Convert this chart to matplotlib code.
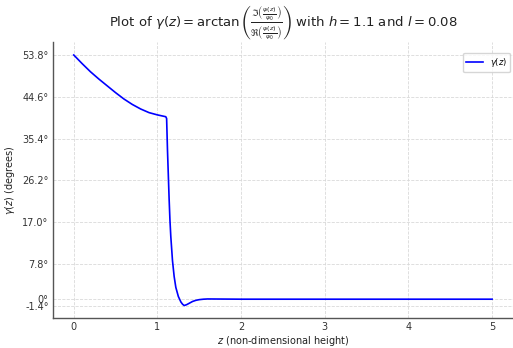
import matplotlib.pyplot as plt
import numpy as np

# values
z = [0.0, 0.1, 0.2, 0.3, 0.4, 0.5, 0.6, 0.7, 0.8, 0.9, 1.0, 1.05, 1.1,
     1.11, 1.12, 1.13, 1.14, 1.15, 1.16, 1.18, 1.20, 1.22, 1.25, 1.28,
     1.30, 1.32, 1.35, 1.38, 1.42, 1.46, 1.50, 1.55, 1.60, 2.0, 3.0, 4.0, 5.0]
gamma = [53.8, 51.9, 50.1, 48.5, 47.0, 45.5, 44.1, 42.9, 41.9, 41.1, 40.6, 40.4, 40.2,
         39.8, 33.0, 27.5, 22.0, 17.3, 13.8, 8.5, 5.0, 2.6, 0.6, -0.6,
         -1.1, -1.4, -1.2, -0.9, -0.5, -0.25, -0.1, 0.0, 0.05, 0.0, 0.0, 0.0, 0.0]
yticks = [-1.4, 0.0, 7.8, 17.0, 26.2, 35.4, 44.6, 53.8]
ytick_labels = ['-1.4°', '0°', '7.8°', '17.0°', '26.2°', '35.4°', '44.6°', '53.8°']
xticks = [0, 1, 2, 3, 4, 5]

fig = plt.figure(figsize=(5.13, 3.48), dpi=100)
ax = fig.add_axes([0.103, 0.086, 0.897, 0.792])

ax.plot(z, gamma, color='#0000ff', linewidth=1.2, label=r'$\gamma(z)$')

ax.set_xticks(xticks)
ax.set_yticks(yticks)
ax.set_yticklabels(ytick_labels)
ax.tick_params(labelsize=7, colors='#333333', length=0, pad=3)

ax.grid(True, linestyle='--', color='#d9d9d9', linewidth=0.6)
ax.spines['top'].set_visible(False)
ax.spines['right'].set_visible(False)
for s in ['left', 'bottom']:
    ax.spines[s].set_color('#555555')
    ax.spines[s].set_linewidth(1.0)

ax.set_xlabel(r'$z$ (non-dimensional height)', fontsize=7, color='#222222', labelpad=1)
ax.set_ylabel(r'$\gamma(z)$ (degrees)', fontsize=7, color='#222222', labelpad=4)
ax.set_title(r'Plot of $\gamma(z) = \arctan\left(\frac{\Im\left(\frac{\psi(z)}{\psi_0}\right)}'
             r'{\Re\left(\frac{\psi(z)}{\psi_0}\right)}\right)$ with $h = 1.1$ and $l = 0.08$',
             fontsize=9.5, color='#222222', pad=4)

ax.legend(loc='upper right', bbox_to_anchor=(0.9935, 0.963), borderaxespad=0,
          fontsize=6, frameon=True, edgecolor='#cccccc')

plt.savefig('out.png', dpi=100)
